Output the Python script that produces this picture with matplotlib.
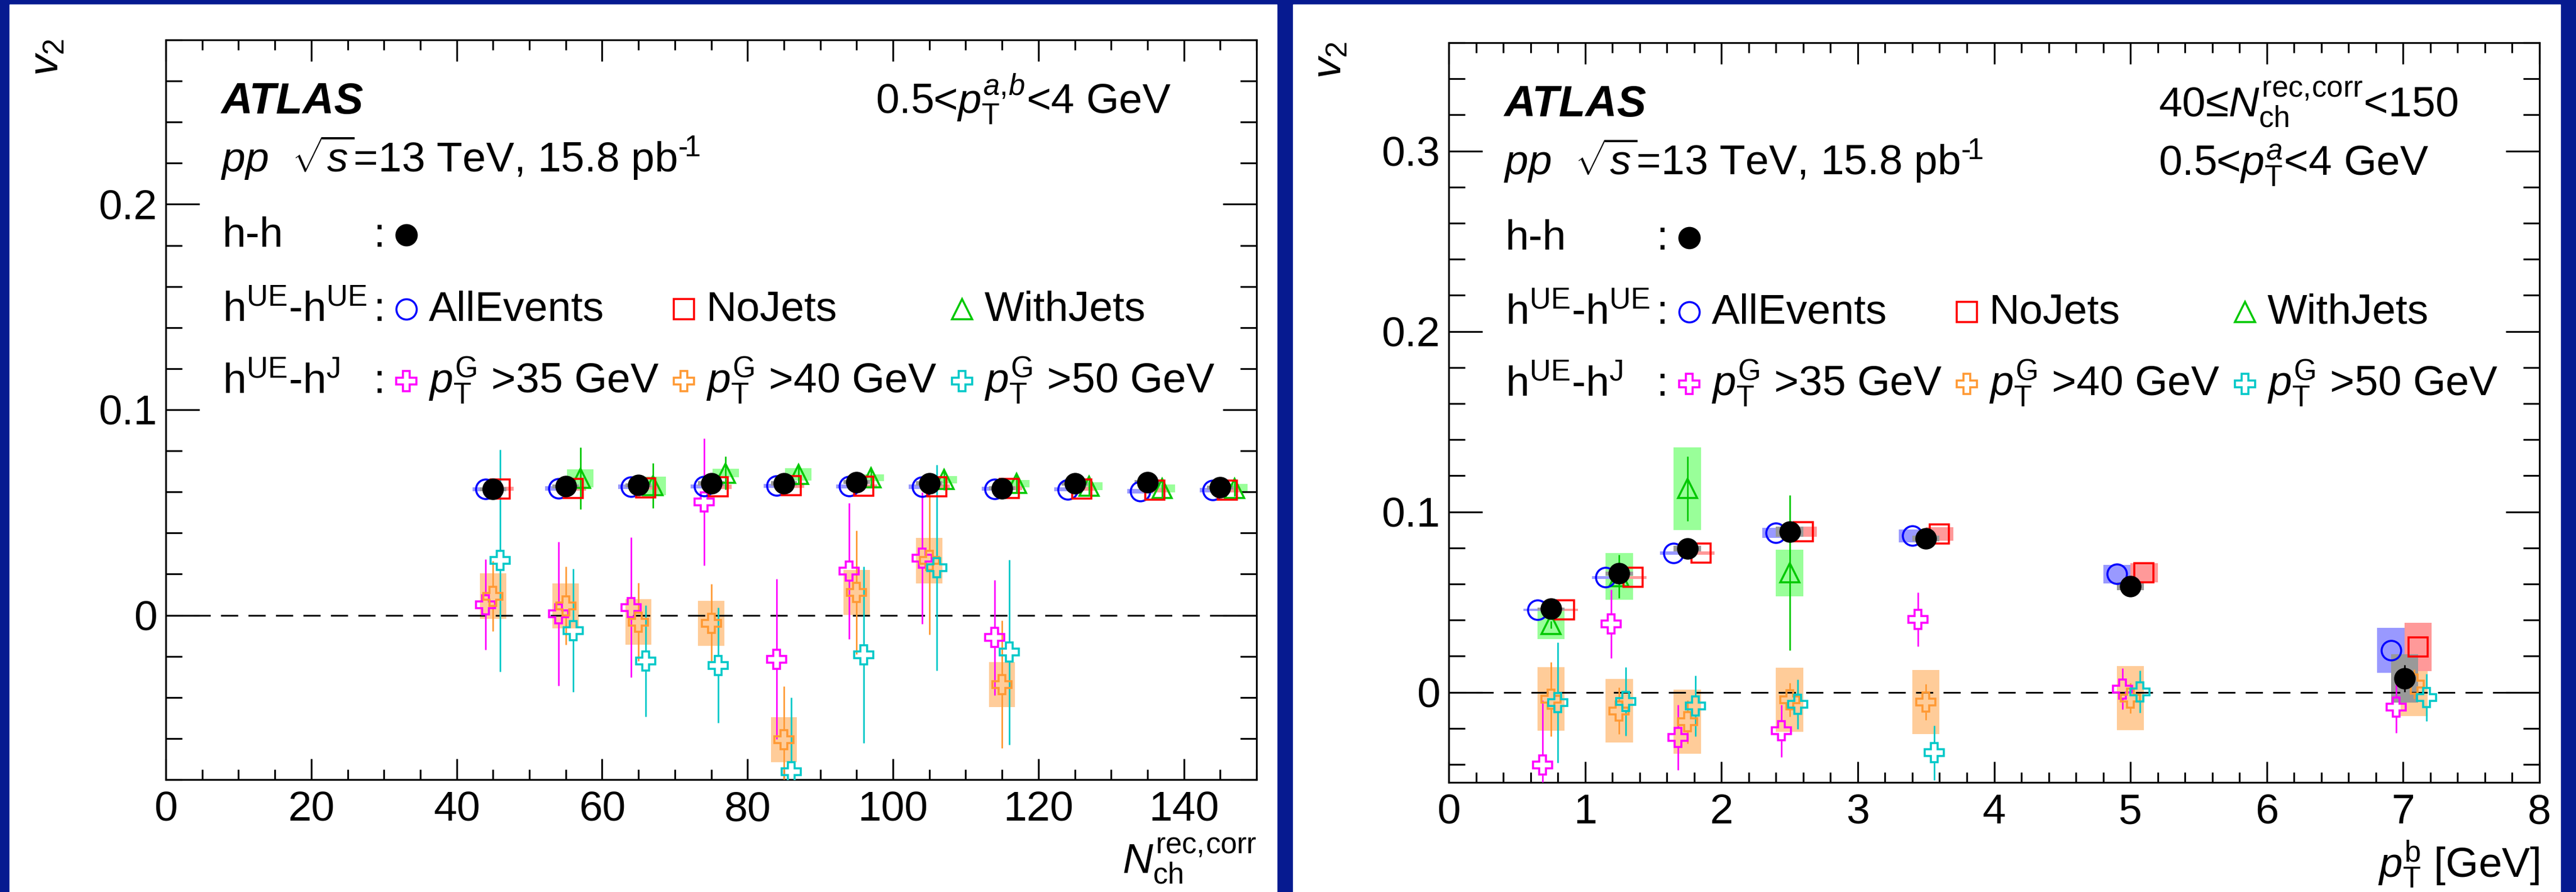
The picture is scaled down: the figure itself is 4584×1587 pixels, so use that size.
import numpy as np
import matplotlib
matplotlib.use("Agg")
import matplotlib.pyplot as plt
from matplotlib.lines import Line2D
from matplotlib.patches import Rectangle

# Image size in pixels (dpi 100)
W, H = 4584, 1587

# ---------------- Left panel: v2 vs Nch ----------------
nch_hh = [45, 55, 65, 75, 85, 95, 105, 115, 125, 135, 145]
v2_hh_nch = [0.0613, 0.0627, 0.0633, 0.0642, 0.0642, 0.0648, 0.0642, 0.0618, 0.0642, 0.0648, 0.0622]

nch_all = [44, 54, 64, 74, 84, 94, 104, 114, 124, 134, 144]
v2_all_nch = [0.0613, 0.0617, 0.0625, 0.0627, 0.0630, 0.0627, 0.0625, 0.0615, 0.0612, 0.0603, 0.0609]

nch_nojets = [46, 56, 66, 76, 86, 96, 106, 116, 126, 136, 146]
v2_nojets_nch = [0.0615, 0.0617, 0.0621, 0.0625, 0.0630, 0.0627, 0.0625, 0.0618, 0.0615, 0.0609, 0.0609]

nch_withjets = [57, 67, 77, 87, 97, 107, 117, 127, 137, 147]
v2_withjets_nch = [0.0667, 0.0630, 0.0692, 0.0685, 0.0669, 0.0660, 0.0641, 0.0628, 0.0617, 0.0618]
stat_withjets_nch = [0.015, 0.011, 0.008, 0.005, 0.005, 0.005, 0.004, 0.004, 0.004, 0.004]
sys_withjets_nch = [0.0044, 0.0045, 0.0020, 0.0030, 0.0017, 0.0017, 0.0018, 0.0018, 0.0020, 0.0020]

nch_g35 = [44, 54, 64, 74, 84, 94, 104, 114]
v2_g35_nch = [0.0052, 0.0006, 0.0038, 0.0551, -0.0214, 0.0215, 0.0279, -0.0109]
stat_g35_nch = [0.022, 0.035, 0.034, 0.031, 0.039, 0.033, 0.032, 0.028]

nch_g40 = [45, 55, 65, 75, 85, 95, 105, 115]
v2_g40_nch = [0.0093, 0.0046, -0.0033, -0.0039, -0.0606, 0.0111, 0.0266, -0.0337]
stat_g40_nch = [0.017, 0.019, 0.019, 0.019, 0.026, 0.030, 0.036, 0.031]
sys_g40_nch = [0.011, 0.011, 0.011, 0.011, 0.011, 0.011, 0.011, 0.011]

nch_g50 = [46, 56, 66, 76, 86, 96, 106, 116]
v2_g50_nch = [0.0266, -0.0074, -0.0223, -0.0244, -0.0761, -0.0192, 0.0232, -0.0180]
stat_g50_nch = [0.054, 0.030, 0.027, 0.028, 0.036, 0.043, 0.050, 0.045]

# thin systematic bands of the inclusive points
sys_thin_nch = [0.001] * 11

# ---------------- Right panel: v2 vs pT^b ----------------
pt_hh = [0.75, 1.25, 1.75, 2.5, 3.5, 5.0, 7.01]
v2_hh_pt = [0.0462, 0.0658, 0.0796, 0.0888, 0.0852, 0.0587, 0.0077]
stat_hh_pt = [0.001, 0.001, 0.001, 0.001, 0.001, 0.001, 0.0075]
sys_hh_pt = [0.0008, 0.0010, 0.0015, 0.0028, 0.0017, 0.0023, 0.0134]

pt_all = [0.65, 1.15, 1.65, 2.40, 3.40, 4.90, 6.91]
v2_all_pt = [0.0457, 0.0636, 0.0771, 0.0882, 0.0867, 0.0655, 0.0232]
sys_all_pt = [0.0007, 0.0007, 0.0010, 0.0028, 0.0036, 0.0052, 0.0126]

pt_nojets = [0.85, 1.35, 1.85, 2.60, 3.60, 5.10, 7.11]
v2_nojets_pt = [0.0457, 0.0636, 0.0771, 0.0889, 0.0877, 0.0663, 0.0250]
sys_nojets_pt = [0.0007, 0.0007, 0.0010, 0.0028, 0.0036, 0.0053, 0.0134]

pt_withjets = [0.75, 1.25, 1.75, 2.5]
v2_withjets_pt = [0.0375, 0.0641, 0.1128, 0.0661]
stat_withjets_pt = [0.002, 0.012, 0.018, 0.043]
sys_withjets_pt = [0.008, 0.013, 0.023, 0.013]

pt_g35 = [0.69, 1.19, 1.68, 2.44, 3.44, 4.94, 6.95]
v2_g35_pt = [-0.0404, 0.0380, -0.0250, -0.0214, 0.0404, 0.0018, -0.0081]
stat_g35_pt = [0.036, 0.019, 0.018, 0.0145, 0.015, 0.0114, 0.0144]

pt_g40 = [0.75, 1.25, 1.75, 2.5, 3.5, 5.0, 7.08]
v2_g40_pt = [-0.0038, -0.0103, -0.0164, -0.0042, -0.0055, -0.0033, 0.0045]
stat_g40_pt = [0.0205, 0.013, 0.012, 0.0095, 0.010, 0.0083, 0.008]
sys_g40_pt = [0.0176, 0.0175, 0.0177, 0.0177, 0.0177, 0.0177, 0.0176]

pt_g50 = [0.80, 1.30, 1.81, 2.56, 3.56, 5.07, 7.17]
v2_g50_pt = [-0.0058, -0.0050, -0.0076, -0.0067, -0.0336, 0.0003, -0.0030]
stat_g50_pt = [0.0334, 0.019, 0.0168, 0.0138, 0.015, 0.0117, 0.0131]

# Colours (ROOT-like)
BLACK, BLUE, RED, GREEN = "black", "#0000ff", "#ff0000", "#00c800"
MAGENTA, ORANGE, CYAN = "#ff00ff", "#ff9933", "#00c8c8"
BOX_GRAY, BOX_BLUE, BOX_RED = "#999999", "#9999ff", "#ff9999"
BOX_GREEN, BOX_ORANGE = "#99ff99", "#ffcc99"
FRAME_BLUE = "#061a90"

FS = 54          # text size (pt)
MS = 25          # marker size (pt)
MEW = 2.6        # marker edge width
LW = 2.3         # frame / tick width

plt.rcParams["font.family"] = ["Liberation Sans", "DejaVu Sans"]
plt.rcParams["mathtext.fontset"] = "custom"
plt.rcParams["mathtext.rm"] = "Liberation Sans"
plt.rcParams["mathtext.it"] = "Liberation Sans:italic"
plt.rcParams["mathtext.bf"] = "Liberation Sans:bold"


# Pixel coordinates of the reference -> figure fraction
def fx(x):
    return x / W


def fy(y):
    return 1 - y / H


def sysBoxes(ax, x, y, err, halfWidth, color, z):
    x, y, err = np.asarray(x), np.asarray(y), np.asarray(err)
    ax.bar(x, 2 * err, width=2 * halfWidth, bottom=y - err, color=color,
           linewidth=0, zorder=z)


def points(ax, x, y, err, marker, color, filled=False, gap=False, z=5):
    ax.plot(x, y, ls="none", marker=marker, ms=MS, mec=color,
            mfc=color if filled else "none", mew=MEW, zorder=z + 0.5)
    if err is None:
        return
    # half marker height in data units (error bar stops at open crosses)
    bbox = ax.get_window_extent()
    y0, y1 = ax.get_ylim()
    d = (MS / 2 * 100 / 72) * (y1 - y0) / bbox.height
    for xi, yi, ei in zip(x, y, err):
        if gap and ei > d:
            ax.vlines([xi, xi], [yi - ei, yi + d], [yi - d, yi + ei],
                      color=color, lw=2.0, zorder=z)
        else:
            ax.vlines([xi], [yi - ei], [yi + ei], color=color, lw=2.0, zorder=z)


def styleAxes(ax, xlim, ylim, xmaj, xmin_step, ymaj):
    ax.set_xlim(*xlim)
    ax.set_ylim(*ylim)
    ax.set_xticks(xmaj)
    ax.set_xticklabels([("%g" % v) for v in xmaj])
    ax.set_xticks(np.arange(xlim[0], xlim[1] + 1e-9, xmin_step), minor=True)
    ax.set_yticks(ymaj)
    ax.set_yticklabels([("%g" % v) for v in ymaj])
    ax.set_yticks(np.arange(-0.08, ylim[1] + 1e-9, 0.02), minor=True)
    ax.set_ylim(*ylim)
    ax.tick_params(which="both", direction="in", top=True, right=True,
                   width=LW, labelsize=FS)
    ax.tick_params(axis="y", which="major", length=43, pad=11)
    ax.tick_params(axis="y", which="minor", length=21)
    ax.tick_params(axis="x", which="major", length=27, pad=14)
    ax.tick_params(axis="x", which="minor", length=13)
    for s in ax.spines.values():
        s.set_linewidth(LW)
    ax.axhline(0, color="black", lw=2.2, ls=(0, (10, 6)), zorder=2)


def panelText(fig, axL, axT, cutLines):
    # ATLAS label and dataset
    fig.text(fx(axL + 99), fy(axT + 131), "ATLAS", fontsize=FS + 2,
             fontweight="bold", fontstyle="italic", va="baseline")
    fig.text(fx(axL + 98), fy(axT + 235),
             "$pp$  $\\sqrt{s}$=13 TeV, 15.8 pb$^{\u2010\\!1}$",
             fontsize=FS, va="baseline")
    for i, line in enumerate(cutLines):
        fig.text(fx(axL + 1263), fy(axT + 131 + 105 * i), line,
                 fontsize=FS, va="baseline")

    # Legend rows
    rows = [r"h-h", r"h$^{\rm UE}$-h$^{\rm UE}$", r"h$^{\rm UE}$-h$^{\rm J}$"]
    base = [368, 500, 628]
    for label, b in zip(rows, base):
        fig.text(fx(axL + 101), fy(axT + b), label, fontsize=FS, va="baseline")
        fig.text(fx(axL + 369), fy(axT + b), ":", fontsize=FS, va="baseline")

    entries = [
        (0, 428, "o", BLACK, True, None),
        (1, 428, "o", BLUE, False, "AllEvents"),
        (1, 922, "s", RED, False, "NoJets"),
        (1, 1417, "^", GREEN, False, "WithJets"),
        (2, 428, "P", MAGENTA, False, r"$p_{\rm T}^{\rm G}$ >35 GeV"),
        (2, 922, "P", ORANGE, False, r"$p_{\rm T}^{\rm G}$ >40 GeV"),
        (2, 1417, "P", CYAN, False, r"$p_{\rm T}^{\rm G}$ >50 GeV"),
    ]
    for row, dx, marker, color, filled, text in entries:
        fig.add_artist(Line2D([fx(axL + dx)], [fy(axT + base[row] - 21)],
                              marker=marker, ms=MS + 1, mec=color,
                              mfc=color if filled else "none", mew=MEW,
                              transform=fig.transFigure))
        if text:
            fig.text(fx(axL + dx + 40), fy(axT + base[row]), text,
                     fontsize=FS, va="baseline")

    # y title
    fig.text(fx(axL - 211), fy(axT - 2), r"$v_{2}$", fontsize=FS,
             rotation=90, ha="center", va="top")


fig = plt.figure(figsize=(W / 100, H / 100), dpi=100)
fig.patch.set_facecolor(FRAME_BLUE)
fig.patches.append(Rectangle((fx(17), 0), fx(2272 - 17), fy(8),
                             transform=fig.transFigure, color="white", zorder=-5))
fig.patches.append(Rectangle((fx(2301), 0), fx(4556 - 2301), fy(8),
                             transform=fig.transFigure, color="white", zorder=-5))

axL_px, axT_left = 295, 71
axR_px, axT_right = 2578, 76
axW, axH = 1941, 1316

ax1 = fig.add_axes([fx(axL_px), fy(axT_left + axH), axW / W, axH / H])
ax2 = fig.add_axes([fx(axR_px), fy(axT_right + axH), axW / W, axH / H])

# ---- left panel ----
styleAxes(ax1, (0, 150), (-0.08, 0.28), list(range(0, 141, 20)), 5, [0, 0.1, 0.2])
hw = 1.8
sysBoxes(ax1, nch_g40, v2_g40_nch, sys_g40_nch, hw, BOX_ORANGE, 1)
sysBoxes(ax1, nch_withjets, v2_withjets_nch, sys_withjets_nch, hw, BOX_GREEN, 1)
sysBoxes(ax1, nch_all, v2_all_nch, sys_thin_nch, hw, BOX_BLUE, 1.1)
sysBoxes(ax1, nch_nojets, v2_nojets_nch, sys_thin_nch, hw, BOX_RED, 1.1)
sysBoxes(ax1, nch_hh, v2_hh_nch, sys_thin_nch, hw, BOX_GRAY, 1.2)

points(ax1, nch_withjets, v2_withjets_nch, stat_withjets_nch, "^", GREEN, z=4)
points(ax1, nch_g35, v2_g35_nch, stat_g35_nch, "P", MAGENTA, gap=True, z=5)
points(ax1, nch_g40, v2_g40_nch, stat_g40_nch, "P", ORANGE, gap=True, z=5)
points(ax1, nch_g50, v2_g50_nch, stat_g50_nch, "P", CYAN, gap=True, z=5)
points(ax1, nch_all, v2_all_nch, None, "o", BLUE, z=6)
points(ax1, nch_nojets, v2_nojets_nch, None, "s", RED, z=6)
points(ax1, nch_hh, v2_hh_nch, None, "o", BLACK, filled=True, z=7)

# ---- right panel ----
styleAxes(ax2, (0, 8), (-0.05, 0.36), list(range(0, 9)), 0.2, [0, 0.1, 0.2, 0.3])
hw = 0.1
sysBoxes(ax2, pt_g40, v2_g40_pt, sys_g40_pt, hw, BOX_ORANGE, 1)
sysBoxes(ax2, pt_withjets, v2_withjets_pt, sys_withjets_pt, hw, BOX_GREEN, 1)
sysBoxes(ax2, pt_all, v2_all_pt, sys_all_pt, hw, BOX_BLUE, 1.1)
sysBoxes(ax2, pt_nojets, v2_nojets_pt, sys_nojets_pt, hw, BOX_RED, 1.1)
sysBoxes(ax2, pt_hh, v2_hh_pt, sys_hh_pt, hw, BOX_GRAY, 1.2)

points(ax2, pt_withjets, v2_withjets_pt, stat_withjets_pt, "^", GREEN, z=4)
points(ax2, pt_g35, v2_g35_pt, stat_g35_pt, "P", MAGENTA, gap=True, z=5)
points(ax2, pt_g40, v2_g40_pt, stat_g40_pt, "P", ORANGE, gap=True, z=5)
points(ax2, pt_g50, v2_g50_pt, stat_g50_pt, "P", CYAN, gap=True, z=5)
points(ax2, pt_all, v2_all_pt, None, "o", BLUE, z=6)
points(ax2, pt_nojets, v2_nojets_pt, None, "s", RED, z=6)
points(ax2, pt_hh, v2_hh_pt, stat_hh_pt, "o", BLACK, filled=True, z=7)

# ---- labels ----
panelText(fig, axL_px, axT_left, [r"0.5<$p_{\rm T}^{a,\!b}$<4 GeV"])
panelText(fig, axR_px, axT_right,
          ["40\u2264$N_{\\rm ch}^{\\rm rec,\\!corr}$<150", r"0.5<$p_{\rm T}^{a}$<4 GeV"])

fig.text(fx(axL_px + axW), fy(axT_left + axH + 166), r"$N_{\rm ch}^{\rm rec,\!corr}$",
         fontsize=FS, ha="right", va="baseline")
fig.text(fx(axR_px + axW), fy(axT_right + axH + 168), r"$p_{\rm T}^{\rm b}$ [GeV]",
         fontsize=FS, ha="right", va="baseline")

fig.savefig("out.png", dpi=100, facecolor=fig.get_facecolor())
